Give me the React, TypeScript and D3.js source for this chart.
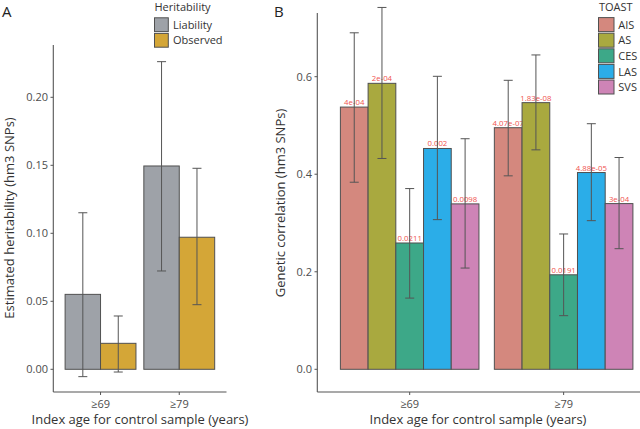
import React from "react";
import * as d3 from "d3";

const ageGroups = ["≥69", "≥79"];

// Panel A: heritability
const herTypes = ["Liability", "Observed"];
const herColors = ["#9EA2A8", "#D4A637"];
const herValue = [
  [0.0551, 0.0191],
  [0.1495, 0.0971],
];
const herLow = [
  [-0.0054, -0.002],
  [0.0723, 0.0475],
];
const herHigh = [
  [0.1151, 0.0392],
  [0.2262, 0.1478],
];
const herTicks = [0, 0.05, 0.1, 0.15, 0.2];

// Panel B: genetic correlation by TOAST subtype
const toast = ["AIS", "AS", "CES", "LAS", "SVS"];
const toastColors = ["#D4887E", "#A9A93F", "#3DA888", "#2BADE8", "#CE84B6"];
const rgValue = [
  [0.5377, 0.5864, 0.259, 0.4528, 0.3392],
  [0.4954, 0.5468, 0.1938, 0.4035, 0.3398],
];
const rgLow = [
  [0.3836, 0.4323, 0.146, 0.3069, 0.2076],
  [0.3967, 0.45, 0.11, 0.3048, 0.2473],
];
const rgHigh = [
  [0.69, 0.742, 0.3706, 0.6008, 0.4728],
  [0.5926, 0.6446, 0.2775, 0.5036, 0.4343],
];
const rgPvals = [
  ["4e-04", "2e-04", "0.0211", "0.002", "0.0098"],
  ["4.07e-07", "1.83e-08", "0.0191", "4.88e-05", "3e-04"],
];
const rgTicks = [0, 0.2, 0.4, 0.6];

const FONT = "'Open Sans', 'Noto Sans', sans-serif";
const AXIS = "#555";
const TICKTXT = "#4D4D4D";
const BARSTROKE = "#505050";

export default function App() {
  // Panel A scales
  const yA = d3.scaleLinear().domain([0, 0.2]).range([369.3, 97.3]);
  const xA = d3.scalePoint().domain(ageGroups).range([53.3, 226.5]).padding(0.6);
  const stepA = xA.step();
  const bwA = (stepA * 0.9) / herTypes.length;

  // Panel B scales
  const yB = d3.scaleLinear().domain([0, 0.6]).range([369.3, 76.7]);
  const xB = d3.scalePoint().domain(ageGroups).range([317.3, 656]).padding(0.6);
  const stepB = xB.step();
  const bwB = (stepB * 0.9) / toast.length;

  const cap = 4.5;
  const axisBottom = 392;

  const barX = (x: number, i: number, n: number, bw: number) => x - (n * bw) / 2 + i * bw;

  return (
    <div style={{ position: "fixed", left: 0, top: 0 }}>
      <svg width={640} height={429} style={{ display: "block", fontFamily: FONT }}>
        <rect width={640} height={429} fill="#fff" />

        {/* ---------- Panel A ---------- */}
        <text x={2} y={16.5} fontSize={15} fill="#222">A</text>
        {/* axes */}
        <line x1={53.3} x2={53.3} y1={45} y2={axisBottom} stroke={AXIS} strokeWidth={1.1} />
        <line x1={53.3} x2={226.5} y1={axisBottom} y2={axisBottom} stroke={AXIS} strokeWidth={1.1} />
        {herTicks.map((t) => (
          <g key={t}>
            <line x1={50.5} x2={53.3} y1={yA(t)} y2={yA(t)} stroke={AXIS} />
            <text x={48} y={yA(t) + 4} fontSize={11} textAnchor="end" fill={TICKTXT}>
              {t.toFixed(2)}
            </text>
          </g>
        ))}
        {ageGroups.map((g) => (
          <g key={g}>
            <line x1={xA(g)!} x2={xA(g)!} y1={axisBottom} y2={axisBottom + 3} stroke={AXIS} />
            <text x={xA(g)!} y={407.5} fontSize={11} textAnchor="middle" fill={TICKTXT}>{g}</text>
          </g>
        ))}
        {/* bars */}
        {ageGroups.map((g, gi) =>
          herTypes.map((h, i) => {
            const x0 = barX(xA(g)!, i, herTypes.length, bwA);
            return (
              <rect key={g + h} x={x0} y={yA(herValue[gi][i])} width={bwA}
                height={yA(0) - yA(herValue[gi][i])} fill={herColors[i]} stroke={BARSTROKE} strokeWidth={1} />
            );
          })
        )}
        {/* error bars */}
        {ageGroups.map((g, gi) =>
          herTypes.map((h, i) => {
            const cx = barX(xA(g)!, i, herTypes.length, bwA) + bwA / 2;
            const y1 = yA(herHigh[gi][i]);
            const y2 = yA(herLow[gi][i]);
            return (
              <g key={"e" + g + h} stroke="#555" strokeWidth={1}>
                <line x1={cx} x2={cx} y1={y1} y2={y2} />
                <line x1={cx - cap} x2={cx + cap} y1={y1} y2={y1} />
                <line x1={cx - cap} x2={cx + cap} y1={y2} y2={y2} />
              </g>
            );
          })
        )}
        <text transform={`translate(13.5,218) rotate(-90)`} fontSize={13} textAnchor="middle" fill="#333">
          Estimated heritability (hm3 SNPs)
        </text>
        <text x={140} y={423.5} fontSize={13} textAnchor="middle" fill="#333">
          Index age for control sample (years)
        </text>
        {/* legend A */}
        <text x={154.5} y={10.5} fontSize={11} fill="#333">Heritability</text>
        {herTypes.map((h, i) => (
          <g key={"l" + h}>
            <rect x={154.5} y={17.8 + i * 15.6} width={13.8} height={13.8} fill={herColors[i]} stroke={BARSTROKE} strokeWidth={1} />
            <text x={173} y={28.8 + i * 15.6} fontSize={11} fill="#333">{h}</text>
          </g>
        ))}

        {/* ---------- Panel B ---------- */}
        <text x={274} y={17} fontSize={15} fill="#222">B</text>
        <line x1={317.3} x2={317.3} y1={13} y2={axisBottom} stroke={AXIS} strokeWidth={1.1} />
        <line x1={317.3} x2={656} y1={axisBottom} y2={axisBottom} stroke={AXIS} strokeWidth={1.1} />
        {rgTicks.map((t) => (
          <g key={t}>
            <line x1={314.5} x2={317.3} y1={yB(t)} y2={yB(t)} stroke={AXIS} />
            <text x={312} y={yB(t) + 4} fontSize={11} textAnchor="end" fill={TICKTXT}>
              {t.toFixed(1)}
            </text>
          </g>
        ))}
        {ageGroups.map((g) => (
          <g key={"b" + g}>
            <line x1={xB(g)!} x2={xB(g)!} y1={axisBottom} y2={axisBottom + 3} stroke={AXIS} />
            <text x={xB(g)!} y={407.5} fontSize={11} textAnchor="middle" fill={TICKTXT}>{g}</text>
          </g>
        ))}
        {/* p-value labels (drawn beneath bars) */}
        {ageGroups.map((g, gi) =>
          toast.map((t, i) => {
            const cx = barX(xB(g)!, i, toast.length, bwB) + bwB / 2;
            return (
              <text key={"p" + g + t} x={cx} y={yB(rgValue[gi][i]) - 2} fontSize={7.8}
                textAnchor="middle" fill="#EF5350">
                {rgPvals[gi][i]}
              </text>
            );
          })
        )}
        {ageGroups.map((g, gi) =>
          toast.map((t, i) => {
            const x0 = barX(xB(g)!, i, toast.length, bwB);
            return (
              <rect key={"r" + g + t} x={x0} y={yB(rgValue[gi][i])} width={bwB}
                height={yB(0) - yB(rgValue[gi][i])} fill={toastColors[i]} stroke={BARSTROKE} strokeWidth={1} />
            );
          })
        )}
        {ageGroups.map((g, gi) =>
          toast.map((t, i) => {
            const cx = barX(xB(g)!, i, toast.length, bwB) + bwB / 2;
            const y1 = yB(rgHigh[gi][i]);
            const y2 = yB(rgLow[gi][i]);
            return (
              <g key={"be" + g + t} stroke="#555" strokeWidth={1}>
                <line x1={cx} x2={cx} y1={y1} y2={y2} />
                <line x1={cx - cap} x2={cx + cap} y1={y1} y2={y1} />
                <line x1={cx - cap} x2={cx + cap} y1={y2} y2={y2} />
              </g>
            );
          })
        )}
        <text transform={`translate(285,203) rotate(-90)`} fontSize={13} textAnchor="middle" fill="#333">
          Genetic correlation (hm3 SNPs)
        </text>
        <text x={478} y={423.5} fontSize={13} textAnchor="middle" fill="#333">
          Index age for control sample (years)
        </text>
        {/* legend B */}
        <text x={599} y={10.5} fontSize={11} fill="#333">TOAST</text>
        {toast.map((t, i) => (
          <g key={"lb" + t}>
            <rect x={598.5} y={17.6 + i * 15.6} width={15.5} height={14} fill={toastColors[i]} stroke={BARSTROKE} strokeWidth={1} />
            <text x={618.3} y={28.8 + i * 15.6} fontSize={11} fill="#333">{t}</text>
          </g>
        ))}
      </svg>
    </div>
  );
}
